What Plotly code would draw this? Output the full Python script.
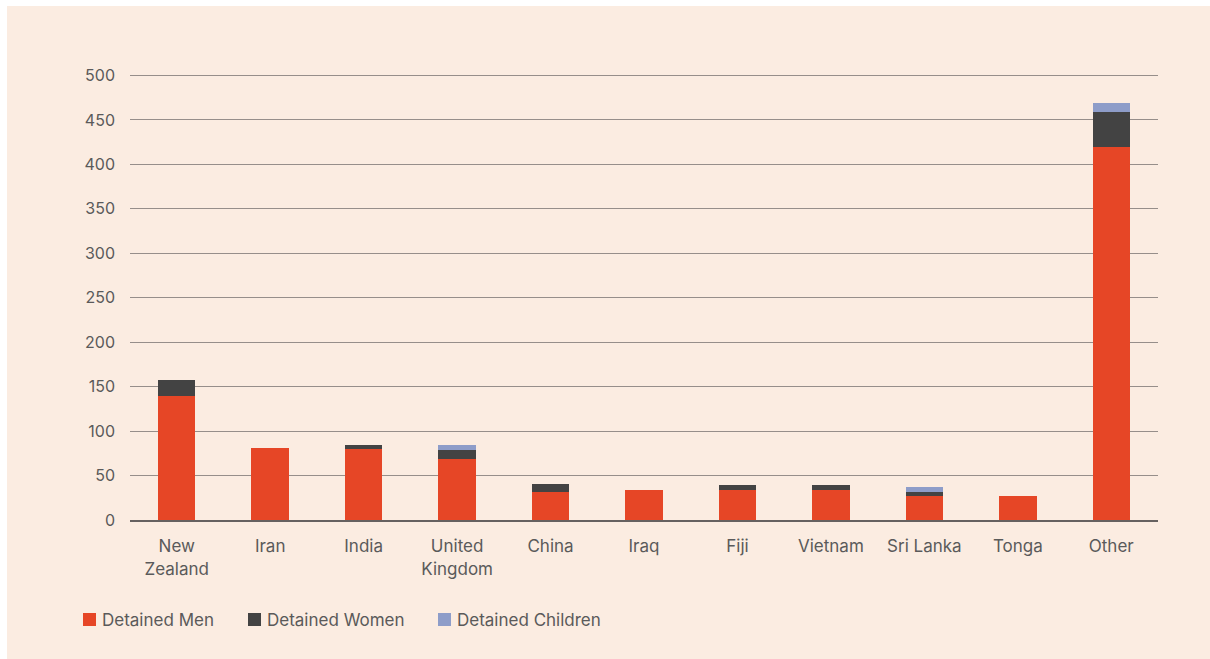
import plotly.graph_objects as go

categories = ["New<br>Zealand", "Iran", "India", "United<br>Kingdom", "China", "Iraq",
              "Fiji", "Vietnam", "Sri Lanka", "Tonga", "Other"]
men = [140, 81, 80, 69, 31, 34, 34, 34, 27, 27, 419]
women = [17, 0, 4, 10, 9, 0, 5, 5, 5, 0, 40]
children = [0, 0, 0, 5, 0, 0, 0, 0, 5, 0, 10]
y_ticks = [0, 50, 100, 150, 200, 250, 300, 350, 400, 450, 500]
series_names = ["Detained Men", "Detained Women", "Detained Children"]
series_colors = ["#E64626", "#434343", "#8E9DC9"]

BG = "#FBECE1"
FONT = "Inter, Open Sans, sans-serif"
TXT = "#5a5a5a"

fig = go.Figure()
for name, vals, col in zip(series_names, [men, women, children], series_colors):
    fig.add_trace(go.Bar(x=categories, y=vals, name=name, marker_color=col,
                         marker_line_width=0, width=0.4, showlegend=False))

W, H = 1210, 659
L, R, T, B = 130, 52, 71, 139
pw, ph = W - L - R, H - T - B


def px(x):
    return (x - L) / pw


def py(y):
    return (H - B - y) / ph


fig.add_shape(type="rect", xref="paper", yref="paper", layer="below",
              x0=px(7), x1=px(W + 5), y0=py(H + 5), y1=py(6),
              fillcolor=BG, line_width=0)

# legend (manual, to match spacing)
legend_x = [83, 248, 438]
for name, col, lx in zip(series_names, series_colors, legend_x):
    fig.add_shape(type="rect", xref="paper", yref="paper",
                  x0=px(lx), x1=px(lx + 13), y0=py(626), y1=py(613),
                  fillcolor=col, line_width=0)
    fig.add_annotation(xref="paper", yref="paper", x=px(lx + 17), y=py(619.5),
                       xanchor="left", yanchor="middle", text=name, showarrow=False,
                       font=dict(size=17, color=TXT, family=FONT))

fig.update_layout(
    barmode="stack",
    width=W, height=H,
    margin=dict(l=L, r=R, t=T, b=B),
    paper_bgcolor="white",
    plot_bgcolor="rgba(0,0,0,0)",
    font=dict(family=FONT, size=16, color=TXT),
    showlegend=False,
    bargap=0.6,
)
fig.update_xaxes(showgrid=False, showline=True, linecolor="#666160", linewidth=2,
                 ticks="", tickfont=dict(size=17, color=TXT), ticklabelstandoff=10)
fig.update_yaxes(range=[0, 505], tickvals=y_ticks, showgrid=True, gridcolor="#968e8a",
                 gridwidth=1, zeroline=False, showline=False, ticks="",
                 tickfont=dict(size=16, color=TXT), ticklabelstandoff=14)

fig.write_html("out.html")
